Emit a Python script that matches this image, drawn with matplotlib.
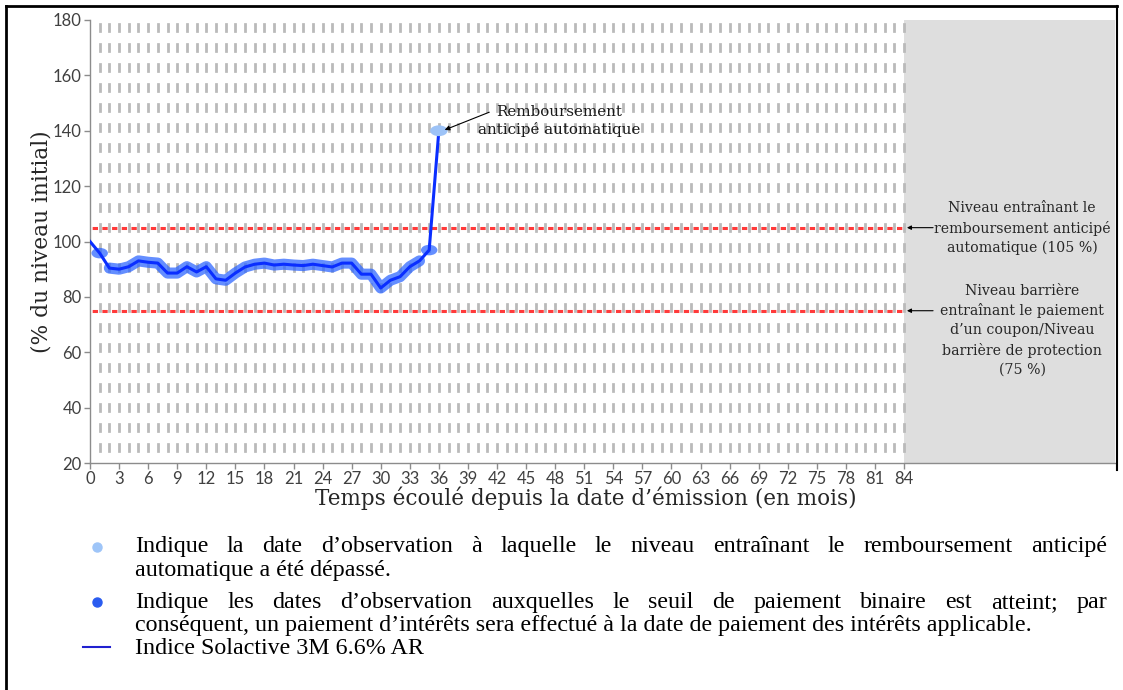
import matplotlib
matplotlib.use('Agg')
import matplotlib.pyplot as plt
from matplotlib.lines import Line2D
from matplotlib.patches import Ellipse

plt.rcParams['lines.scale_dashes'] = False

# ---------------- data ----------------
months = list(range(0, 37))
index_values = [100, 95.8, 90.4, 90.0, 90.9, 93.0, 92.5, 92.2, 88.6, 88.6,
                90.9, 89.0, 90.9, 86.5, 86.0, 88.6, 90.8, 91.8, 92.2, 91.5,
                91.8, 91.5, 91.3, 91.8, 91.3, 90.8, 92.2, 92.2, 88.2, 88.2,
                83.2, 86.0, 87.3, 90.9, 93.0, 96.9, 140.0]
binary_months = [1, 35]
autocall_month = 36
autocall_value = 140.0
autocall_level = 105
barrier_level = 75
obs_months = list(range(1, 85))
product_end = 84
xticks = list(range(0, 85, 3))
yticks = list(range(20, 181, 20))

W, H = 1123, 690
fig = plt.figure(figsize=(W / 100, H / 100), dpi=100)
ax_l, ax_r, ax_t, ax_b = 90, 1115, 20, 463
ax = fig.add_axes([ax_l / W, 1 - ax_b / H, (ax_r - ax_l) / W, (ax_b - ax_t) / H])
px_per_month = (904 - 90) / 84.0
xmax = (ax_r - ax_l) / px_per_month
ax.set_xlim(0, xmax)
ax.set_ylim(20, 180)

# grey region after product end
ax.axvspan(product_end, xmax, color='#dedede', zorder=0, lw=0)

# observation date dashed lines
for m in obs_months:
    ax.plot([m, m], [180, 20], color='#bababa', lw=2.0,
            linestyle=(12.5, (7.0, 7.4)), zorder=2)

# threshold lines (dash period = one month)
period_pt = px_per_month * 72 / 100
red_dash = period_pt * 0.55
red_gap = period_pt - red_dash
for lvl in (autocall_level, barrier_level):
    ax.plot([0, product_end], [lvl, lvl], color='#ff3a3a', lw=2.2,
            linestyle=(red_dash + red_gap / 2, (red_dash, red_gap)), zorder=2.5)

# index line + binary highlight
blob_color = '#3068ff'
ax.plot(months[2:35], index_values[2:35], color=blob_color, lw=8, alpha=0.75,
        solid_capstyle='round', solid_joinstyle='round', zorder=3)
for m in binary_months:
    ax.add_patch(Ellipse((m, index_values[m]), 1.7, 3.8, color=blob_color,
                         alpha=0.75, lw=0, zorder=3))
ax.plot(months, index_values, color='#0a2eff', lw=2.2, zorder=5)
ax.add_patch(Ellipse((autocall_month, autocall_value), 1.8, 3.9,
                     color='#9dc3f7', lw=0, zorder=6))

# annotations
serif = 'DejaVu Serif'
ax.text(48.4, 143.5, 'Remboursement\nanticipé automatique', ha='center',
        va='center', fontsize=10.8, family=serif, color='#1a1a1a',
        linespacing=1.3, zorder=7)
ax.annotate('', xy=(36.6, 140.3), xytext=(41.2, 146.7),
            arrowprops=dict(arrowstyle='-|>', color='black', lw=0.8,
                            mutation_scale=7, shrinkA=0, shrinkB=0), zorder=7)

ax.text(96.2, 104.8, 'Niveau entraînant le\nremboursement anticipé\nautomatique (105 %)',
        ha='center', va='center', fontsize=10.2, family=serif, color='#262626',
        linespacing=1.45)
ax.text(96.2, 68.0, 'Niveau barrière\nentraînant le paiement\nd\u2019un coupon/Niveau\nbarrière de protection\n(75 %)',
        ha='center', va='center', fontsize=10.2, family=serif, color='#262626',
        linespacing=1.45)
for yy, xs in ((autocall_level, 87.0), (barrier_level, 87.0)):
    ax.annotate('', xy=(84.3, yy), xytext=(xs, yy),
                arrowprops=dict(arrowstyle='-|>', color='black', lw=0.8,
                                mutation_scale=6, shrinkA=0, shrinkB=0))

# axes styling
for s in ('top', 'right'):
    ax.spines[s].set_visible(False)
for s in ('left', 'bottom'):
    ax.spines[s].set_color('#8c8c8c')
    ax.spines[s].set_linewidth(1.0)
ax.set_xticks(xticks)
ax.set_yticks(yticks)
ax.tick_params(direction='out', length=4, width=1, color='#8c8c8c',
               labelcolor='#404040', labelsize=12, pad=2)
for lab in ax.get_xticklabels() + ax.get_yticklabels():
    lab.set_family('Lato')

fig.text(42 / W, 1 - 242 / H, '(% du niveau initial)', rotation=90,
         ha='center', va='center', fontsize=15.7, family=serif, color='#262626')
fig.text(586 / W, 1 - 505 / H, 'Temps écoulé depuis la date d\u2019émission (en mois)',
         ha='center', va='baseline', fontsize=15.5, family=serif, color='#262626')

# figure frame
fig.add_artist(Line2D([6 / W, 6 / W], [0, 1 - 6 / H], color='black', lw=2))
fig.add_artist(Line2D([6 / W, 1117 / W], [1 - 6 / H, 1 - 6 / H], color='black', lw=2))
fig.add_artist(Line2D([1117 / W, 1117 / W], [1 - 6 / H, 1 - 470 / H], color='black', lw=1.5))

# legend (manual, justified text)
lfont = dict(fontsize=17.3, family='Liberation Serif', color='black', va='baseline')
renderer = fig.canvas.get_renderer()


def justified(x0, x1, y, text):
    words = text.split(' ')
    objs = [fig.text(0, 1 - y / H, w, ha='left', **lfont) for w in words]
    widths = [o.get_window_extent(renderer).width for o in objs]
    gap = ((x1 - x0) - sum(widths)) / (len(words) - 1)
    x = x0
    for o, w in zip(objs, widths):
        o.set_x(x / W)
        x += w + gap


tx0, tx1 = 135, 1107
bl = 6.0  # baseline offset from visual centre, px
justified(tx0, tx1, 546 + bl, 'Indique la date d\u2019observation à laquelle le niveau entraînant le remboursement anticipé')
fig.text(tx0 / W, 1 - (570 + bl) / H, 'automatique a été dépassé.', ha='left', **lfont)
justified(tx0, tx1, 602 + bl, 'Indique les dates d\u2019observation auxquelles le seuil de paiement binaire est atteint; par')
fig.text(tx0 / W, 1 - (625 + bl) / H, 'conséquent, un paiement d\u2019intérêts sera effectué à la date de paiement des intérêts applicable.', ha='left', **lfont)
fig.text(tx0 / W, 1 - (648 + bl) / H, 'Indice Solactive 3M 6.6% AR', ha='left', **lfont)

fig.add_artist(Line2D([97 / W], [1 - 547 / H], marker='o', ms=6.5, color='#9ec5f8', lw=0))
fig.add_artist(Line2D([97 / W], [1 - 602 / H], marker='o', ms=6.5, color='#2a5cf0', lw=0))
fig.add_artist(Line2D([83 / W, 110 / W], [1 - 647 / H, 1 - 647 / H], color='#2020d0', lw=1.5))

fig.savefig('out.png', dpi=100)
